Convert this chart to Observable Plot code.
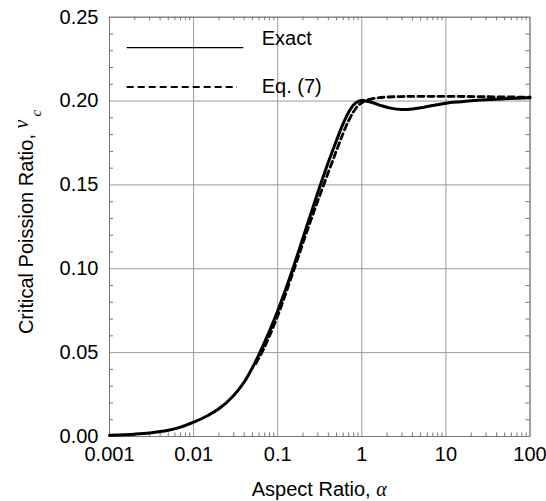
<!DOCTYPE html>
<html>
<head>
<meta charset="utf-8">
<script src="https://cdn.jsdelivr.net/npm/d3@7"></script>
<script src="https://cdn.jsdelivr.net/npm/@observablehq/plot@0.6"></script>
<style>
  html, body { margin: 0; padding: 0; background: #fff; }
  svg { display: block; }
</style>
</head>
<body>
<div id="chart"></div>
<script>
// ---- data ----
const alphaExact = [0.001, 0.002, 0.003, 0.005, 0.007, 0.01, 0.015, 0.02, 0.03, 0.04, 0.05, 0.06, 0.08, 0.1, 0.15, 0.2, 0.25, 0.3, 0.4, 0.5, 0.6, 0.7, 0.8, 0.9, 1.0, 1.3, 1.7, 2.2, 3, 4, 5.5, 7, 10, 15, 20, 30, 50, 100];
const nuExact    = [0.0007, 0.0014, 0.0021, 0.0037, 0.0056, 0.0086, 0.0127, 0.0165, 0.0245, 0.0325, 0.041, 0.049, 0.063, 0.075, 0.0995, 0.1185, 0.1335, 0.1455, 0.1635, 0.1765, 0.1865, 0.1935, 0.1978, 0.1997, 0.2003, 0.1993, 0.1973, 0.1958, 0.195, 0.1953, 0.1963, 0.1974, 0.1987, 0.1996, 0.2002, 0.2008, 0.2014, 0.2019];

const alphaEq = [0.055, 0.07, 0.1, 0.15, 0.2, 0.25, 0.3, 0.4, 0.5, 0.6, 0.7, 0.8, 0.9, 1.0, 1.1, 1.3, 1.6, 2, 3, 5, 10, 30, 100];
const nuEq    = [0.0435, 0.0535, 0.072, 0.097, 0.1155, 0.1295, 0.1405, 0.1575, 0.1705, 0.1808, 0.1885, 0.1938, 0.1972, 0.199, 0.2002, 0.2013, 0.202, 0.2024, 0.2027, 0.2028, 0.2028, 0.2026, 0.2023];

const xTicks = [0.001, 0.01, 0.1, 1, 10, 100];
const xTickLabels = ["0.001", "0.01", "0.1", "1", "10", "100"];
const yTicks = [0, 0.05, 0.1, 0.15, 0.2, 0.25];
const yTickLabels = ["0.00", "0.05", "0.10", "0.15", "0.20", "0.25"];
const seriesNames = ["Exact", "Eq. (7)"];

// minor tick positions
const minorX = [];
for (let e = -3; e < 2; e++) for (let k = 2; k <= 9; k++) minorX.push(k * Math.pow(10, e));
const minorY = d3.range(1, 25).filter(i => i % 5 !== 0).map(i => i / 100);

const exact = alphaExact.map((a, i) => ({a, nu: nuExact[i]}));
const eq = alphaEq.map((a, i) => ({a, nu: nuEq[i]}));

const W = 546, H = 501;
const mL = 109, mR = 16.5, mT = 16.7, mB = 65;
const innerH = H - mT - mB, innerW = W - mL - mR;
const tk = 3.5;

const plot = Plot.plot({
  width: W,
  height: H,
  marginLeft: mL,
  marginRight: mR,
  marginTop: mT,
  marginBottom: mB,
  style: {fontFamily: "'Liberation Sans', Arial, sans-serif", fontSize: "20px", color: "#000", background: "#fff"},
  x: {type: "log", domain: [0.001, 100], axis: null},
  y: {domain: [0, 0.25], axis: null},
  marks: [
    Plot.gridX(xTicks, {stroke: "#9a9a9a", strokeOpacity: 1, strokeWidth: 1}),
    Plot.gridY(yTicks, {stroke: "#9a9a9a", strokeOpacity: 1, strokeWidth: 1}),
    // minor ticks (inward)
    Plot.tickX(minorX, {x: d => d, insetTop: innerH - tk, stroke: "#777"}),
    Plot.tickX(minorX, {x: d => d, insetBottom: innerH - tk, stroke: "#777"}),
    Plot.tickY(minorY, {y: d => d, insetRight: innerW - 4, stroke: "#777"}),
    Plot.tickY(minorY, {y: d => d, insetLeft: innerW - 4, stroke: "#777"}),
    Plot.frame({stroke: "#777"}),
    Plot.axisX(xTicks, {tickSize: 0, tickPadding: 10, tickFormat: d => xTickLabels[xTicks.indexOf(d)], fill: "#000", fontSize: 20, label: null}),
    Plot.axisY(yTicks, {tickSize: 0, tickPadding: 11, tickFormat: d => yTickLabels[yTicks.indexOf(d)], fill: "#000", fontSize: 20, label: null}),
    Plot.line(eq, {x: "a", y: "nu", stroke: "#000", strokeWidth: 2.8, strokeDasharray: "6,4", curve: "catmull-rom"}),
    Plot.line(exact, {x: "a", y: "nu", stroke: "#000", strokeWidth: 3, curve: "catmull-rom"})
  ]
});

const svg = d3.select(plot);
const font = "'Liberation Sans', Arial, sans-serif";
const serif = "'Liberation Serif', 'DejaVu Serif', serif";

// x axis label
const xl = svg.append("text")
  .attr("x", mL + innerW / 2)
  .attr("y", 496)
  .attr("text-anchor", "middle")
  .attr("font-family", font)
  .attr("font-size", 20)
  .attr("fill", "#000");
xl.append("tspan").text("Aspect Ratio, ");
xl.append("tspan").attr("font-family", serif).attr("font-style", "italic").text("α");

// y axis label
const yl = svg.append("text")
  .attr("transform", "translate(33,222) rotate(-90)")
  .attr("text-anchor", "middle")
  .attr("font-family", font)
  .attr("font-size", 20)
  .attr("fill", "#000");
yl.append("tspan").text("Critical Poission Ratio, ");
yl.append("tspan").attr("font-family", serif).attr("font-style", "italic").attr("dy", -5).text("ν");
yl.append("tspan").attr("font-size", 15).attr("font-family", serif).attr("font-style", "italic").attr("dy", 13).attr("dx", 3).text("c");

// legend
const lg = svg.append("g").attr("text-anchor", "start");
lg.append("line").attr("x1", 126.7).attr("x2", 243.3).attr("y1", 47.7).attr("y2", 47.7)
  .attr("stroke", "#000").attr("stroke-width", 1.3);
lg.append("text").attr("x", 261.7).attr("y", 45).attr("text-anchor", "start").attr("font-family", font).attr("font-size", 20).attr("fill", "#000").text(seriesNames[0]);
lg.append("line").attr("x1", 126.7).attr("x2", 237).attr("y1", 87).attr("y2", 87)
  .attr("stroke", "#000").attr("stroke-width", 1.8).attr("stroke-dasharray", "7,4");
lg.append("text").attr("x", 261.7).attr("y", 92.5).attr("text-anchor", "start").attr("font-family", font).attr("font-size", 20).attr("fill", "#000").text(seriesNames[1]);

document.getElementById("chart").appendChild(plot);
</script>
</body>
</html>
